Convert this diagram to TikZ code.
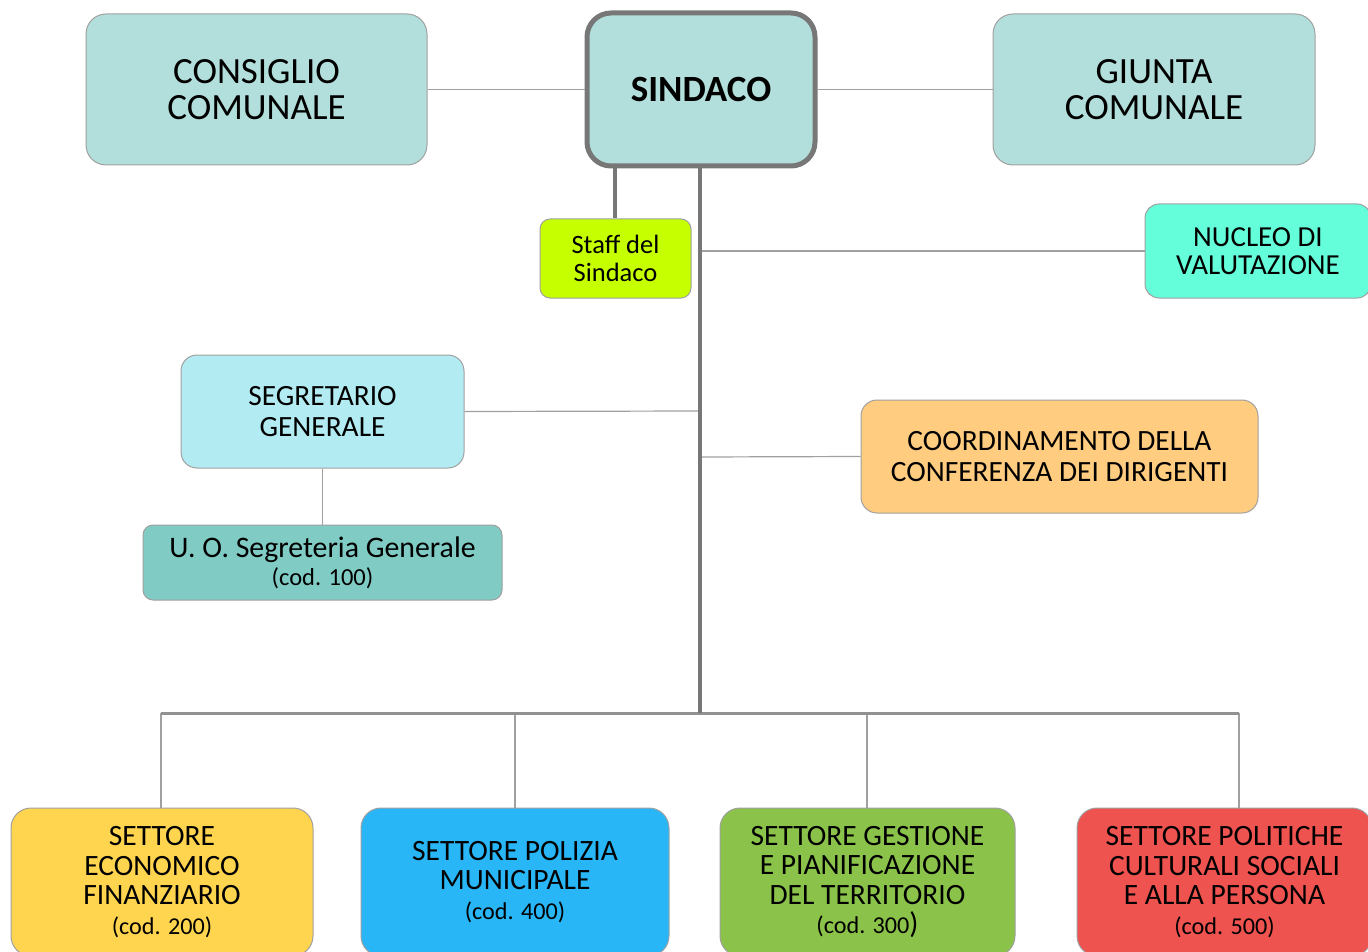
\documentclass[tikz,border=0pt]{standalone}
\usepackage{fontspec}
\setmainfont{Carlito}
\definecolor{topfill}{HTML}{B2DFDB}
\definecolor{edge}{HTML}{A0A0A0}
\definecolor{thick}{HTML}{777777}
\definecolor{staff}{HTML}{C6FF00}
\definecolor{nucleo}{HTML}{64FFDA}
\definecolor{segr}{HTML}{B2EBF2}
\definecolor{uo}{HTML}{80CBC4}
\definecolor{coord}{HTML}{FFCC80}
\definecolor{s200}{HTML}{FFD54F}
\definecolor{s400}{HTML}{29B6F6}
\definecolor{s300}{HTML}{8BC34A}
\definecolor{s500}{HTML}{EF5350}
\tikzset{
  box/.style={draw=edge, line width=1pt, rounded corners=20pt, align=center, inner sep=0pt, text=black},
  thin/.style={draw=edge, line width=1.2pt},
  trunk/.style={draw=thick, line width=4pt},
  bus/.style={draw=thick!80, line width=3pt},
}
\newcommand{\fsz}[2]{\fontsize{#1}{#2}\selectfont}
\begin{document}
\begin{tikzpicture}[x=1pt,y=-1pt]
\useasboundingbox (0,0) rectangle (1368,952);
\clip (0,0) rectangle (1368,952);
% top row
\node[box, fill=topfill, minimum width=341pt, minimum height=151pt, font=\fsz{37}{36}] (cons) at (256.5,89.5) {CONSIGLIO\\COMUNALE};
\node[box, fill=topfill, draw=thick, line width=5pt, rounded corners=24pt, minimum width=228pt, minimum height=153pt, font=\fsz{37}{36}\bfseries] (sind) at (701,89.5) {SINDACO};
\node[box, fill=topfill, minimum width=322pt, minimum height=151pt, font=\fsz{37}{36}] (giun) at (1154,89.5) {GIUNTA\\COMUNALE};
% second level
\node[box, fill=staff, rounded corners=10pt, minimum width=151pt, minimum height=79pt, font=\fsz{26.5}{28}] (staff) at (615.5,258.5) {Staff del\\Sindaco};
\node[box, fill=nucleo, rounded corners=14pt, minimum width=226pt, minimum height=94pt, font=\fsz{29}{28.5}] (nucl) at (1258,251) {NUCLEO DI\\VALUTAZIONE};
\node[box, fill=segr, rounded corners=16pt, minimum width=283pt, minimum height=113pt, font=\fsz{29.4}{31}] (segr) at (322.5,411.5) {SEGRETARIO\\GENERALE};
\node[box, fill=coord, rounded corners=16pt, minimum width=397pt, minimum height=113pt, font=\fsz{29.4}{30.5}] (coord) at (1059.5,456.5) {COORDINAMENTO DELLA\\CONFERENZA DEI DIRIGENTI};
\node[box, fill=uo, rounded corners=10pt, minimum width=359pt, minimum height=75pt, font=\fsz{29.8}{28}] (uo) at (322.5,562.5) {U. O. Segreteria Generale\\{\fsz{24.5}{24}(cod. 100)}};
% settori
\node[box, fill=s200, minimum width=302pt, minimum height=148pt, font=\fsz{29.5}{29.5}] (s200) at (162,882) {SETTORE\\ECONOMICO\\FINANZIARIO\\{\fsz{24.2}{26}(cod. 200)}};
\node[box, fill=s400, minimum width=308pt, minimum height=148pt, font=\fsz{29.5}{29.5}] (s400) at (515,882) {SETTORE POLIZIA\\MUNICIPALE\\{\fsz{24.2}{26}(cod. 400)}};
\node[box, fill=s300, minimum width=295pt, minimum height=148pt, font=\fsz{29.5}{29.5}] (s300) at (867.5,882) {SETTORE GESTIONE\\E PIANIFICAZIONE\\DEL TERRITORIO\\{\fsz{24.2}{26}(cod. 300}{\fsz{30}{26})}};
\node[box, fill=s500, minimum width=295pt, minimum height=148pt, font=\fsz{29.5}{29.5}] (s500) at (1224.5,882) {SETTORE POLITICHE\\CULTURALI SOCIALI\\E ALLA PERSONA\\{\fsz{24.2}{26}(cod. 500)}};
% junction coordinates
\coordinate (tb) at (700,713);
\coordinate (jn) at (700,251);
\coordinate (js) at (700,411);
\coordinate (jc) at (700,457);
\coordinate (bl) at (161,713);
\coordinate (br) at (1239,713);
\coordinate (b2) at (515,713);
\coordinate (b3) at (867,713);
% connectors
\draw[thin] (cons.east) -- (sind.west);
\draw[thin] (sind.east) -- (giun.west);
\draw[thin] (jn) -- (nucl.west);
\draw[thin] (js) -- (segr.east);
\draw[thin] (jc) -- (coord.west);
\draw[thin] (segr.south) -- (uo.north);
\draw[thin] (bl) -- (bl |- s200.north);
\draw[thin] (b2) -- (s400.north);
\draw[thin] (b3) -- (b3 |- s300.north);
\draw[thin] (br) -- (br |- s500.north);
\draw[bus] (bl) -- (br);
\draw[trunk] (sind.south -| 615,0) -- (staff.north -| 615,0);
\draw[trunk] (sind.south -| tb) -- (tb);
\end{tikzpicture}
\end{document}
